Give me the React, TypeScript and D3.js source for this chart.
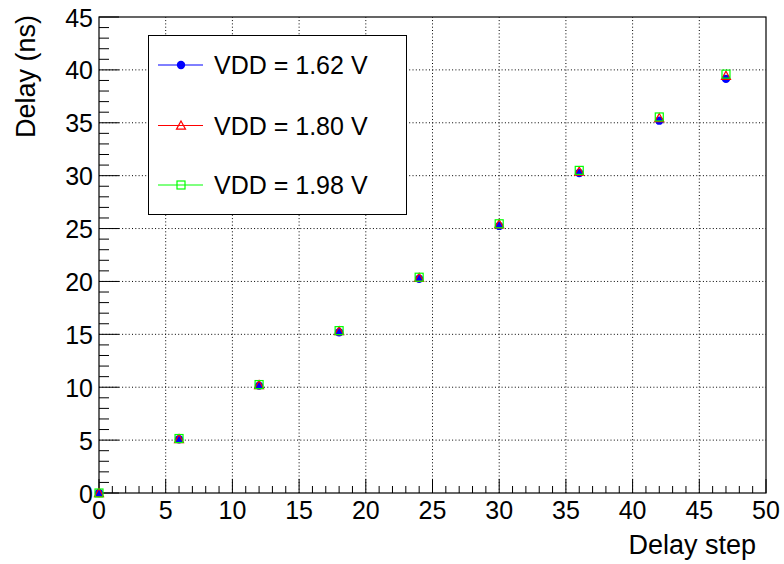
import React from "react";
import * as d3 from "d3";

const steps = [0, 6, 12, 18, 24, 30, 36, 42, 47];
const vdd162 = [0, 5.08, 10.15, 15.2, 20.25, 25.25, 30.25, 35.2, 39.15];
const vdd180 = [0, 5.1, 10.2, 15.3, 20.35, 25.4, 30.4, 35.45, 39.45];
const vdd198 = [0, 5.15, 10.25, 15.35, 20.4, 25.45, 30.5, 35.55, 39.6];
const seriesLabels = ["VDD = 1.62 V", "VDD = 1.80 V", "VDD = 1.98 V"];
const xTicks = [0, 5, 10, 15, 20, 25, 30, 35, 40, 45, 50];
const yTicks = [0, 5, 10, 15, 20, 25, 30, 35, 40, 45];

const W = 784, H = 564;
const L = 99, R = 766, T = 17, B = 493;
const FONT = "'Liberation Sans', Arial, Helvetica, sans-serif";

function Marker({ kind, x, y }: { kind: number; x: number; y: number }) {
  if (kind === 0) return <circle cx={x} cy={y} r={4.2} fill="#0000ff" />;
  if (kind === 1) {
    const s = 4.5;
    const p = `${x},${y - s} ${x + s},${y + s * 0.8} ${x - s},${y + s * 0.8}`;
    return <polygon points={p} fill="none" stroke="#ff0000" strokeWidth={1.2} />;
  }
  return <rect x={x - 4} y={y - 4} width={8} height={8} fill="none" stroke="#00ff00" strokeWidth={1.2} />;
}

export default function App() {
  const x = d3.scaleLinear().domain([0, 50]).range([L, R]);
  const y = d3.scaleLinear().domain([0, 45]).range([B, T]);
  const series = [vdd162, vdd180, vdd198];
  const colors = ["#0000ff", "#ff0000", "#00ff00"];
  const xMinor = d3.range(0, 51, 1);
  const yMinor = d3.range(0, 46, 1);
  const xMajLen = 14, xMinLen = 7, yMajLen = 20, yMinLen = 10;
  const legendRows = [65, 125.5, 185];

  return (
    <svg width={W} height={H} style={{ position: "absolute", left: 0, top: 0, background: "#fff" }} fontFamily={FONT}>
      <rect x={0} y={0} width={W} height={H} fill="#fff" />
      {/* grid */}
      <g stroke="#000" strokeWidth={1} strokeDasharray="1,2.3">
        {xTicks.slice(1, -1).map((t) => (
          <line key={"gx" + t} x1={x(t)} x2={x(t)} y1={B} y2={T} />
        ))}
        {yTicks.slice(1, -1).map((t) => (
          <line key={"gy" + t} x1={L} x2={R} y1={y(t)} y2={y(t)} />
        ))}
      </g>
      {/* ticks */}
      <g stroke="#000" strokeWidth={1}>
        {xMinor.map((t) => (
          <line key={"xt" + t} x1={x(t)} x2={x(t)} y1={B} y2={B - (t % 5 === 0 ? xMajLen : xMinLen)} />
        ))}
        {yMinor.map((t) => (
          <line key={"yt" + t} x1={L} x2={L + (t % 5 === 0 ? yMajLen : yMinLen)} y1={y(t)} y2={y(t)} />
        ))}
      </g>
      <rect x={L} y={T} width={R - L} height={B - T} fill="none" stroke="#000" strokeWidth={1.2} />
      {/* tick labels */}
      <g fontSize={25} fill="#000">
        {xTicks.map((t) => (
          <text key={"xl" + t} x={x(t)} y={519} textAnchor="middle">{t}</text>
        ))}
        {yTicks.map((t) => (
          <text key={"yl" + t} x={93} y={y(t) + 9.5} textAnchor="end">{t}</text>
        ))}
      </g>
      <text x={756} y={554} textAnchor="end" fontSize={27}>Delay step</text>
      <text transform={`translate(35,15) rotate(-90)`} textAnchor="end" fontSize={27}>Delay (ns)</text>
      {/* data */}
      {series.map((s, si) => (
        <g key={"s" + si}>
          {s.map((v, i) => (
            <Marker key={i} kind={si} x={x(steps[i])} y={y(v)} />
          ))}
        </g>
      ))}
      {/* legend */}
      <rect x={148.5} y={35.5} width={258} height={179} fill="#fff" stroke="#000" strokeWidth={1} />
      {seriesLabels.map((lab, i) => (
        <g key={"lg" + i}>
          <line x1={158} x2={203} y1={legendRows[i]} y2={legendRows[i]} stroke={colors[i]} strokeWidth={1} />
          <Marker kind={i} x={181} y={legendRows[i]} />
          <text x={214} y={legendRows[i] + 9} fontSize={25}>{lab}</text>
        </g>
      ))}
    </svg>
  );
}
